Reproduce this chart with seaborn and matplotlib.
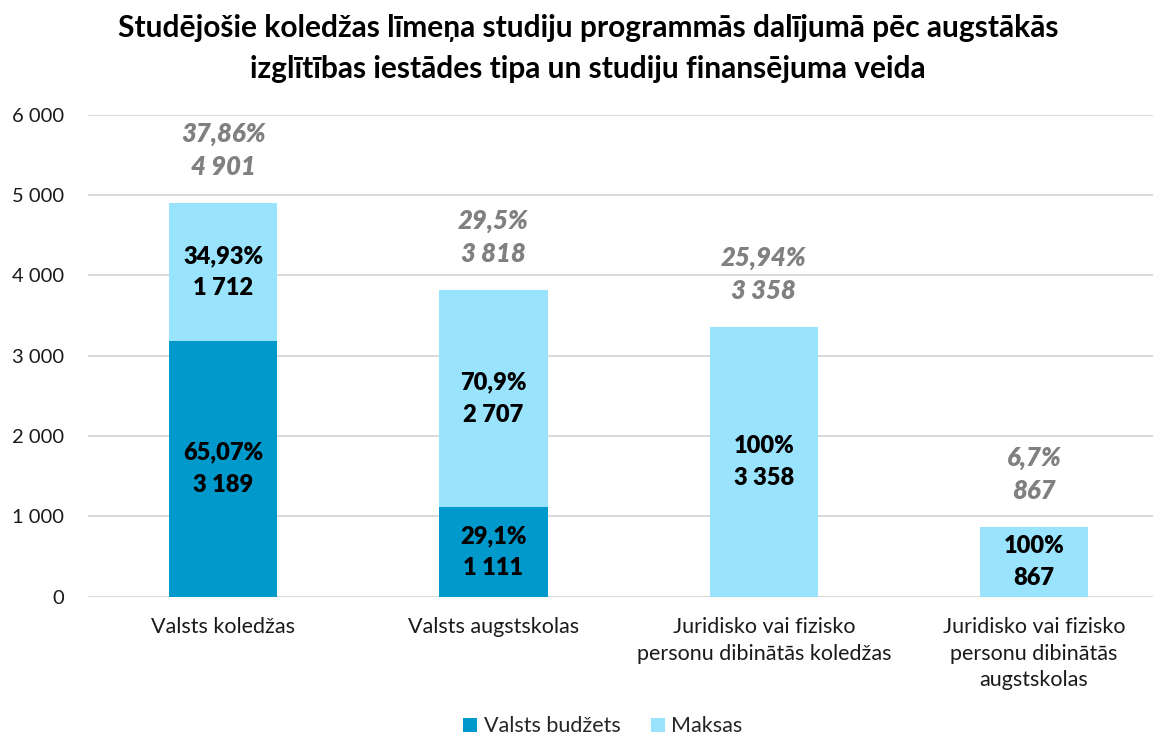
import matplotlib
matplotlib.use("Agg")
import matplotlib.pyplot as plt
import seaborn as sns
import pandas as pd
from matplotlib.patches import Patch

# ---- data ----
categories = [
    "Valsts koledžas",
    "Valsts augstskolas",
    "Juridisko vai fizisko\npersonu dibinātās koledžas",
    "Juridisko vai fizisko\npersonu dibinātās\naugstskolas",
]
budget = [3189, 1111, 0, 0]
fees = [1712, 2707, 3358, 867]
budget_pct = ["65,07%", "29,1%", "", ""]
fees_pct = ["34,93%", "70,9%", "100%", "100%"]
total_pct = ["37,86%", "29,5%", "25,94%", "6,7%"]
series_names = ["Valsts budžets", "Maksas"]
y_ticks = [0, 1000, 2000, 3000, 4000, 5000, 6000]
title = ("Studējošie koledžas līmeņa studiju programmās dalījumā pēc augstākās\n"
         "izglītības iestādes tipa un studiju finansējuma veida")

DARK = "#0099CC"
LIGHT = "#99E3FC"
GRID = "#D9D9D9"
GRAYTXT = "#808080"

sns.set_theme(style="white")
plt.rcParams["font.family"] = ["Lato", "DejaVu Sans"]

def fmt(v):
    return f"{v:,}".replace(",", " ")

totals = [b + f for b, f in zip(budget, fees)]
df = pd.DataFrame({"cat": categories, "budget": budget, "fees": fees, "total": totals})

fig = plt.figure(figsize=(11.55, 7.38), dpi=100)
ax = fig.add_axes([88 / 1155, 0.1917, 1065 / 1155, 0.6525])

sns.barplot(data=df, x="cat", y="total", color=LIGHT, width=0.4, ax=ax,
            saturation=1, linewidth=0, zorder=3)
sns.barplot(data=df, x="cat", y="budget", color=DARK, width=0.4, ax=ax,
            saturation=1, linewidth=0, zorder=3)

ax.set_xlim(-0.5, 3.44)
ax.set_ylim(0, 6000)
ax.set_yticks(y_ticks)
ax.set_yticklabels([fmt(v) for v in y_ticks], fontsize=14.5, color="#1a1a1a")
ax.yaxis.grid(True, color=GRID, linewidth=1.4, zorder=0)
ax.set_axisbelow(True)
for s in ax.spines.values():
    s.set_visible(False)
ax.tick_params(axis="y", length=0, pad=17)
ax.tick_params(axis="x", length=0, pad=15)
ax.set_xticks(range(len(categories)))
ax.set_xticklabels(categories, fontsize=15.5, color="#1a1a1a", linespacing=1.4)
ax.set_xlabel("")
ax.set_ylabel("")

for i in range(len(categories)):
    b, f, t = budget[i], fees[i], totals[i]
    if b > 0:
        ax.text(i, b / 2, f"{budget_pct[i]}\n{fmt(b)}", ha="center", va="center",
                fontsize=17, fontweight="heavy", color="black", linespacing=1.55, zorder=5)
    if f > 0:
        ax.text(i, b + f / 2, f"{fees_pct[i]}\n{fmt(f)}", ha="center", va="center",
                fontsize=17, fontweight="heavy", color="black", linespacing=1.55, zorder=5)
    ax.annotate(f"{total_pct[i]}\n{fmt(t)}", xy=(i, t), xytext=(0, 24),
                textcoords="offset pixels", ha="center", va="bottom",
                fontsize=18.5, fontweight="heavy", fontstyle="italic", color=GRAYTXT,
                linespacing=1.45, zorder=5)

fig.text(0.509, 0.934, title, ha="center", va="center", fontsize=21.5,
         fontweight="bold", color="black", linespacing=1.55)

handles = [Patch(facecolor=DARK, edgecolor="none"), Patch(facecolor=LIGHT, edgecolor="none")]
fig.legend(handles, series_names, loc="lower center", bbox_to_anchor=(0.522, -0.024),
           ncol=2, frameon=False, fontsize=15.5, handlelength=0.65, handleheight=0.65,
           handletextpad=0.3, columnspacing=1.4)

fig.savefig("out.png", dpi=100)
